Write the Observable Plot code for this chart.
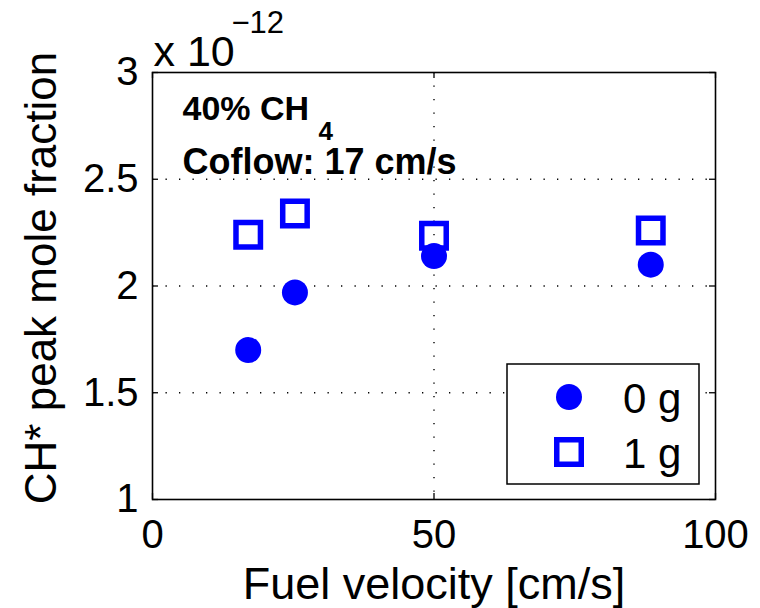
<!DOCTYPE html>
<html><head><meta charset="utf-8">
<script src="https://cdn.jsdelivr.net/npm/d3@7"></script>
<script src="https://cdn.jsdelivr.net/npm/@observablehq/plot@0.6"></script>
<style>body{margin:0;background:#fff}</style>
</head><body><div id="chart"></div>
<script>
// ---- data (×10^-12) ----
const velocity0g = [17, 25.3, 50, 88.5];
const peak0g = [1.70, 1.97, 2.14, 2.10];
const velocity1g = [17, 25.3, 50, 88.5];
const peak1g = [2.24, 2.34, 2.235, 2.26];
const seriesNames = ["0 g", "1 g"];
const xTicks = [0, 50, 100];
const yTicks = [1, 1.5, 2, 2.5, 3];
const xLabel = "Fuel velocity [cm/s]";
const yLabel = "CH* peak mole fraction";
const exponentBase = "x 10";
const exponentText = "\u221212";
const noteLine1 = "40% CH";
const noteSub = "4";
const noteLine2 = "Coflow: 17 cm/s";

const blue = "#0000ff";
const font = "Liberation Sans, Arial, Helvetica, sans-serif";
const data0 = velocity0g.map((v, i) => ({x: v, y: peak0g[i]}));
const data1 = velocity1g.map((v, i) => ({x: v, y: peak1g[i]}));

const W = 760, H = 608, mL = 152, mR = 45, mT = 72, mB = 109;
const fw = W - mL - mR, fh = H - mT - mB, tl = 6;

function legendMark(index, scales, values, dims) {
  const g = d3.create("svg:g");
  const right = dims.width - dims.marginRight - 16;
  const bottom = dims.height - dims.marginBottom - 15;
  const bw = 192, bh = 120, left = right - bw, top = bottom - bh;
  g.append("rect").attr("x", left).attr("y", top).attr("width", bw).attr("height", bh)
    .attr("fill", "white").attr("stroke", "black").attr("stroke-width", 1.5);
  g.append("circle").attr("cx", left + 62).attr("cy", top + 33).attr("r", 13).attr("fill", blue);
  const s = 24.5;
  g.append("rect").attr("x", left + 62 - s/2).attr("y", top + 88 - s/2).attr("width", s).attr("height", s)
    .attr("fill", "none").attr("stroke", blue).attr("stroke-width", 5.5);
  seriesNames.forEach((n, i) => {
    g.append("text").attr("x", left + 116).attr("y", top + 49 + i * 55)
      .attr("text-anchor", "start")
      .attr("font-size", 42).attr("font-family", font).attr("fill", "black").text(n);
  });
  return g.node();
}

const chart = Plot.plot({
  width: W, height: H,
  marginLeft: mL, marginRight: mR, marginTop: mT, marginBottom: mB,
  style: {fontFamily: font, background: "white", color: "black"},
  x: {domain: [0, 100]},
  y: {domain: [1, 3]},
  marks: [
    Plot.gridX([50], {stroke: "black", strokeOpacity: 1, strokeWidth: 1.4, strokeDasharray: "1.3,12.2"}),
    Plot.gridY([1.5, 2, 2.5], {stroke: "black", strokeOpacity: 1, strokeWidth: 1.4, strokeDasharray: "1.3,12.2"}),
    Plot.tickX(xTicks, {x: d => d, insetTop: fh - tl, stroke: "black", strokeWidth: 1.3}),
    Plot.tickX(xTicks, {x: d => d, insetBottom: fh - tl, stroke: "black", strokeWidth: 1.3}),
    Plot.tickY(yTicks, {y: d => d, insetRight: fw - tl, stroke: "black", strokeWidth: 1.3}),
    Plot.tickY(yTicks, {y: d => d, insetLeft: fw - tl, stroke: "black", strokeWidth: 1.3}),
    Plot.frame({stroke: "black", strokeWidth: 1.6}),
    Plot.axisX({ticks: xTicks, tickSize: 0, tickPadding: 20, fontSize: 40, label: null, tickFormat: d => String(d)}),
    Plot.axisY({ticks: yTicks, tickSize: 0, tickPadding: 14, fontSize: 40, label: null, tickFormat: d => String(d)}),
    Plot.dot(data1, {x: "x", y: "y", symbol: "square", r: 13.8, fill: "none", stroke: blue, strokeWidth: 5.5}),
    Plot.dot(data0, {x: "x", y: "y", r: 13, fill: blue, stroke: "none"}),
    Plot.text([xLabel], {text: d => d, frameAnchor: "bottom", lineAnchor: "bottom", dy: 99, fontSize: 45}),
    Plot.text([yLabel], {text: d => d, frameAnchor: "left", textAnchor: "middle", lineAnchor: "bottom", rotate: -90, dx: -97, dy: -8, fontSize: 44}),
    Plot.text([exponentBase], {text: d => d, frameAnchor: "top-left", textAnchor: "start", lineAnchor: "bottom", dx: 1, dy: -7, fontSize: 43}),
    Plot.text([exponentText], {text: d => d, frameAnchor: "top-left", textAnchor: "start", lineAnchor: "bottom", dx: 79, dy: -40, fontSize: 31}),
    Plot.text([noteLine1], {text: d => d, frameAnchor: "top-left", textAnchor: "start", lineAnchor: "bottom", dx: 30, dy: 47, fontSize: 34, fontWeight: "bold"}),
    Plot.text([noteSub], {text: d => d, frameAnchor: "top-left", textAnchor: "start", lineAnchor: "bottom", dx: 166, dy: 67, fontSize: 26, fontWeight: "bold"}),
    Plot.text([noteLine2], {text: d => d, frameAnchor: "top-left", textAnchor: "start", lineAnchor: "bottom", dx: 30, dy: 101, fontSize: 36, fontWeight: "bold"}),
    legendMark
  ]
});
document.getElementById("chart").appendChild(chart);
</script>
</body></html>
